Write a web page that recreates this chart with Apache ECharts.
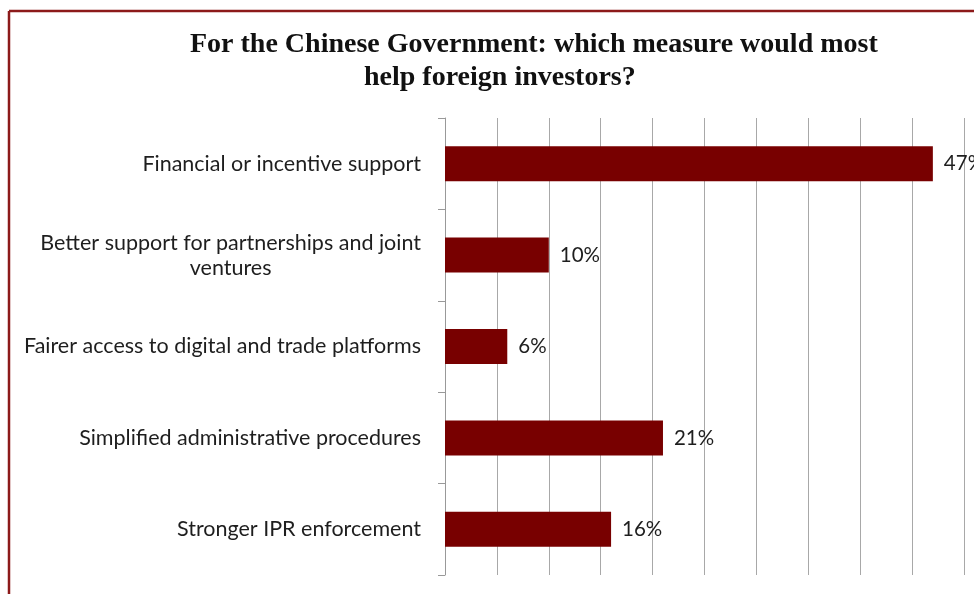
<!DOCTYPE html>
<html>
<head>
<meta charset="utf-8">
<script src="https://cdn.jsdelivr.net/npm/echarts@6/dist/echarts.min.js"></script>
<style>
  html, body { margin: 0; padding: 0; background: #ffffff; }
  #chart { width: 974px; height: 594px; }
</style>
</head>
<body>
<div id="chart"></div>
<script>
// Survey answers, top to bottom
const categories = [
  'Financial or incentive support',
  'Better support for partnerships and joint\nventures',
  'Fairer access to digital and trade platforms',
  'Simplified administrative procedures',
  'Stronger IPR enforcement'
];
// Share of respondents (%)
const shares = [47, 10, 6, 21, 16];
// Horizontal scale (%)
const scaleMin = 0;
const scaleMax = 50;
const scaleStep = 5;

const titleLine1 = 'For the Chinese Government: which measure would most';
const titleLine2 = 'help foreign investors?';

const labelFont = 'Lato, "Open Sans", sans-serif';
const inkColor = '#1e1e1e';
const barColor = '#780000';
const frameColor = '#8c1a1a';
const gridColor = '#a8a8a8';

const titleStyle = {
  fontFamily: '"Liberation Serif", "Times New Roman", serif',
  fontWeight: 'bold',
  fontSize: 28,
  color: '#111111'
};

const chart = echarts.init(document.getElementById('chart'), null, { renderer: 'canvas' });

chart.setOption({
  backgroundColor: '#ffffff',
  animation: false,
  title: [
    { text: titleLine1, left: 190, top: 31, padding: 0, textStyle: titleStyle },
    { text: titleLine2, left: 364, top: 64, padding: 0, textStyle: titleStyle }
  ],
  graphic: [
    // Frame around the figure (top and left edges)
    {
      type: 'line',
      shape: { x1: 9, y1: 11, x2: 974, y2: 11 },
      style: { stroke: frameColor, lineWidth: 2.5 }
    },
    {
      type: 'line',
      shape: { x1: 9, y1: 11, x2: 9, y2: 594 },
      style: { stroke: frameColor, lineWidth: 2.5 }
    }
  ],
  grid: {
    left: 445,
    right: 10,
    top: 118,
    bottom: 19,
    containLabel: false
  },
  xAxis: {
    type: 'value',
    min: scaleMin,
    max: scaleMax,
    interval: scaleStep,
    axisLabel: { show: false },
    axisLine: { show: false },
    axisTick: { show: false },
    splitLine: { show: true, lineStyle: { color: gridColor, width: 1 } }
  },
  yAxis: {
    type: 'category',
    inverse: true,
    data: categories,
    axisLine: { show: true, lineStyle: { color: '#999999', width: 1 } },
    axisTick: { show: true, length: 7, lineStyle: { color: '#999999', width: 1 } },
    axisLabel: {
      margin: 24,
      formatter: function (value) {
        return value.split('\n').map(function (line) { return '{c|' + line + '}'; }).join('\n');
      },
      rich: {
        c: {
          fontFamily: labelFont,
          fontSize: 21.5,
          color: inkColor,
          align: 'center',
          lineHeight: 25
        }
      }
    }
  },
  series: [
    {
      type: 'bar',
      data: shares,
      barWidth: 35,
      itemStyle: { color: barColor },
      label: {
        show: true,
        position: 'right',
        distance: 11,
        formatter: '{c}%',
        fontFamily: labelFont,
        fontSize: 20.5,
        color: inkColor
      }
    }
  ]
});
</script>
</body>
</html>
